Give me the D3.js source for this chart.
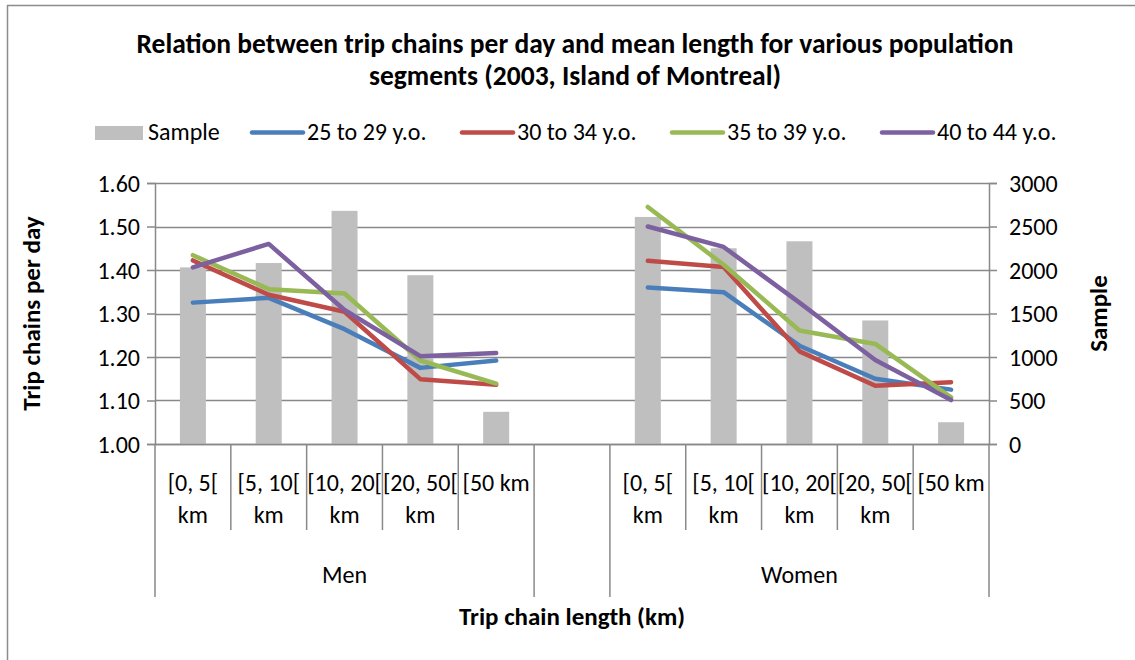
<!DOCTYPE html>
<html>
<head>
<meta charset="utf-8">
<script src="https://cdn.jsdelivr.net/npm/d3@7"></script>
<style>
  html, body { margin: 0; padding: 0; background: #fff; }
  svg { display: block; }
  text { font-family: Carlito, Lato, "Liberation Sans", sans-serif; fill: #000; }
</style>
</head>
<body>
<svg id="chart" width="1135" height="660"></svg>
<script>
// ---- data ----
const groups = ["Men", "Women"];
const lengthLabels = [["[0, 5[", "km"], ["[5, 10[", "km"], ["[10, 20[", "km"], ["[20, 50[", "km"], ["[50 km"]];

const sampleMen   = [2030, 2080, 2680, 1940, 370];
const sampleWomen = [2610, 2250, 2330, 1420, 250];

const age25to29Men   = [1.325, 1.336, 1.264, 1.175, 1.192];
const age25to29Women = [1.360, 1.349, 1.226, 1.150, 1.125];
const age30to34Men   = [1.422, 1.343, 1.304, 1.149, 1.136];
const age30to34Women = [1.421, 1.407, 1.213, 1.134, 1.142];
const age35to39Men   = [1.434, 1.356, 1.346, 1.192, 1.139];
const age35to39Women = [1.545, 1.412, 1.261, 1.230, 1.107];
const age40to44Men   = [1.406, 1.460, 1.308, 1.202, 1.209];
const age40to44Women = [1.500, 1.453, 1.325, 1.193, 1.101];

const leftTicks  = [1.00, 1.10, 1.20, 1.30, 1.40, 1.50, 1.60];
const rightTicks = [0, 500, 1000, 1500, 2000, 2500, 3000];

const series = [
  { name: "25 to 29 y.o.", color: "#4A7EBB", men: age25to29Men, women: age25to29Women },
  { name: "30 to 34 y.o.", color: "#BE4B48", men: age30to34Men, women: age30to34Women },
  { name: "35 to 39 y.o.", color: "#98B954", men: age35to39Men, women: age35to39Women },
  { name: "40 to 44 y.o.", color: "#7D60A0", men: age40to44Men, women: age40to44Women }
];

// ---- layout ----
const svg = d3.select("#chart");
const plot = { left: 155, right: 989, top: 183, bottom: 444 };
const gridColor = "#898989";
const labelSize = "24px";

// slot keys: five bins for men, an empty slot, five bins for women
const slotKeys = [];
lengthLabels.forEach((_, i) => slotKeys.push("Men|" + i));
slotKeys.push("gap");
lengthLabels.forEach((_, i) => slotKeys.push("Women|" + i));

const x = d3.scaleBand().domain(slotKeys).range([plot.left, plot.right]).paddingInner(0).paddingOuter(0);
const yL = d3.scaleLinear().domain([1.0, 1.6]).range([plot.bottom, plot.top]);
const yR = d3.scaleLinear().domain([0, 3000]).range([plot.bottom, plot.top]);

// outer frame (top and left edges visible)
svg.append("line").attr("x1", 7).attr("x2", 1135).attr("y1", 5.5).attr("y2", 5.5)
  .attr("stroke", "#8c8c8c").attr("stroke-width", 1.5);
svg.append("line").attr("x1", 7.5).attr("x2", 7.5).attr("y1", 5).attr("y2", 660)
  .attr("stroke", "#8c8c8c").attr("stroke-width", 1.5);

// title
const title = svg.append("text").attr("text-anchor", "middle")
  .style("font-weight", "bold").style("font-size", "27.5px");
title.append("tspan").attr("x", 575).attr("y", 53).text("Relation between trip chains per day and mean length for various population");
title.append("tspan").attr("x", 575).attr("y", 85).text("segments (2003, Island of Montreal)");

// gridlines
svg.append("g").selectAll("line").data(leftTicks).join("line")
  .attr("x1", plot.left).attr("x2", plot.right)
  .attr("y1", d => Math.round(yL(d)) + 0.5).attr("y2", d => Math.round(yL(d)) + 0.5)
  .attr("stroke", gridColor).attr("stroke-width", 1.5);

// left axis
const leftAxis = d3.axisLeft(yL).tickValues(leftTicks).tickFormat(d3.format(".2f")).tickSize(8).tickPadding(7);
const gL = svg.append("g").attr("transform", `translate(${plot.left},0)`).call(leftAxis);
gL.select(".domain").attr("stroke", gridColor).attr("stroke-width", 1.5);
gL.selectAll(".tick line").attr("stroke", gridColor).attr("stroke-width", 1.5);
gL.selectAll(".tick text").style("font-size", labelSize).attr("dy", "0.35em");

// right axis
const rightAxis = d3.axisRight(yR).tickValues(rightTicks).tickFormat(d3.format("d")).tickSize(8).tickPadding(12);
const gR = svg.append("g").attr("transform", `translate(${plot.right},0)`).call(rightAxis);
gR.select(".domain").attr("stroke", gridColor).attr("stroke-width", 1.5);
gR.selectAll(".tick line").attr("stroke", gridColor).attr("stroke-width", 1.5);
gR.selectAll(".tick text").style("font-size", labelSize).attr("dy", "0.35em");

// sample bars
const barData = [];
sampleMen.forEach((v, i) => barData.push({ key: "Men|" + i, v }));
sampleWomen.forEach((v, i) => barData.push({ key: "Women|" + i, v }));
const barW = 26;
svg.append("g").selectAll("rect").data(barData).join("rect")
  .attr("x", d => x(d.key) + x.bandwidth() / 2 - barW / 2)
  .attr("width", barW)
  .attr("y", d => yR(d.v))
  .attr("height", d => yR(0) - yR(d.v))
  .attr("fill", "#BFBFBF");

// bottom axis line over bars
svg.append("line").attr("x1", plot.left).attr("x2", plot.right)
  .attr("y1", plot.bottom + 0.5).attr("y2", plot.bottom + 0.5)
  .attr("stroke", gridColor).attr("stroke-width", 1.5);

// age-group lines, one segment per sex
const line = d3.line().x(d => x(d.key) + x.bandwidth() / 2).y(d => yL(d.v));
const lineG = svg.append("g");
series.forEach(s => {
  [["Men", s.men], ["Women", s.women]].forEach(([g, vals]) => {
    lineG.append("path")
      .datum(vals.map((v, i) => ({ key: g + "|" + i, v })))
      .attr("d", line)
      .attr("fill", "none")
      .attr("stroke", s.color)
      .attr("stroke-width", 4.5)
      .attr("stroke-linejoin", "round")
      .attr("stroke-linecap", "round");
  });
});

// category axis: tick separators
const catG = svg.append("g");
const boundaries = d3.range(slotKeys.length + 1).map(i => plot.left + i * x.step());
boundaries.forEach((bx, i) => {
  const isGroupEdge = (i === 0 || i === 5 || i === 6 || i === 11);
  catG.append("line")
    .attr("x1", bx).attr("x2", bx)
    .attr("y1", plot.bottom).attr("y2", isGroupEdge ? 597 : 530)
    .attr("stroke", gridColor).attr("stroke-width", 1.5);
});

// bin labels
slotKeys.forEach(k => {
  if (k === "gap") return;
  const idx = +k.split("|")[1];
  const cx = x(k) + x.bandwidth() / 2;
  const t = catG.append("text").attr("text-anchor", "middle").style("font-size", labelSize);
  lengthLabels[idx].forEach((ln, j) => {
    t.append("tspan").attr("x", cx).attr("y", 491 + j * 32).text(ln);
  });
});

// group labels
groups.forEach(g => {
  const first = x(g + "|0");
  const last = x(g + "|4") + x.bandwidth();
  catG.append("text").attr("text-anchor", "middle").style("font-size", labelSize)
    .attr("x", (first + last) / 2).attr("y", 583).text(g);
});

// axis titles
svg.append("text").attr("text-anchor", "middle").style("font-weight", "bold").style("font-size", "25px")
  .attr("x", 572).attr("y", 625).text("Trip chain length (km)");
svg.append("text").attr("text-anchor", "middle").style("font-weight", "bold").style("font-size", "25px")
  .attr("transform", `translate(40,${(plot.top + plot.bottom) / 2}) rotate(-90)`).text("Trip chains per day");
svg.append("text").attr("text-anchor", "middle").style("font-weight", "bold").style("font-size", "25px")
  .attr("transform", `translate(1107,${(plot.top + plot.bottom) / 2}) rotate(-90)`).text("Sample");

// legend
const legend = svg.append("g");
const legendItems = [{ name: "Sample", type: "bar", color: "#BFBFBF", x: 95 }]
  .concat(series.map((s, i) => ({ name: s.name, type: "line", color: s.color, x: [252, 462, 672, 882][i] })));
legendItems.forEach(it => {
  if (it.type === "bar") {
    legend.append("rect").attr("x", it.x).attr("y", 126).attr("width", 48).attr("height", 14).attr("fill", it.color);
    legend.append("text").attr("x", it.x + 53).attr("y", 140).style("font-size", labelSize).text(it.name);
  } else {
    legend.append("line").attr("x1", it.x).attr("x2", it.x + 51).attr("y1", 132.5).attr("y2", 132.5)
      .attr("stroke", it.color).attr("stroke-width", 4.5).attr("stroke-linecap", "round");
    legend.append("text").attr("x", it.x + 55).attr("y", 140).style("font-size", labelSize).text(it.name);
  }
});
</script>
</body>
</html>
